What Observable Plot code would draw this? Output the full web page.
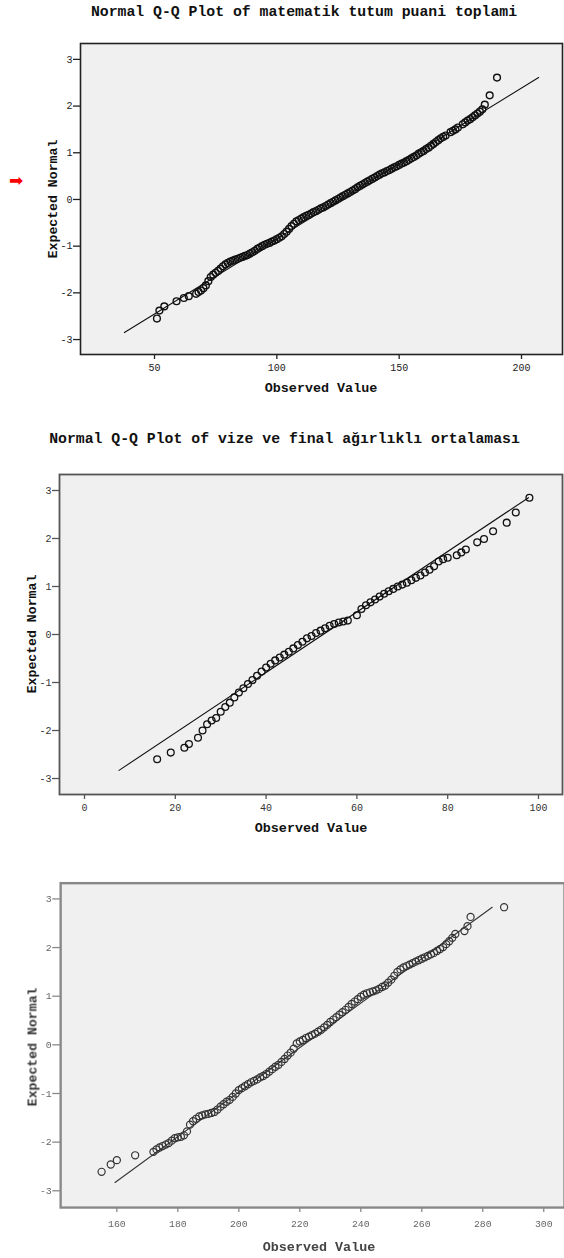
<!DOCTYPE html>
<html><head><meta charset="utf-8">
<script src="https://cdn.jsdelivr.net/npm/d3@7"></script>
<script src="https://cdn.jsdelivr.net/npm/@observablehq/plot@0.6"></script>
<style>
html,body{margin:0;padding:0;background:#fff;overflow:hidden;}
#page{position:relative;width:564px;height:1258px;overflow:hidden;}
.abs{position:absolute;white-space:nowrap;}
.title{font-family:"Liberation Mono",monospace;font-weight:bold;font-size:14.8px;color:#111;transform:translate(-50%,-50%);}
.xl{font-family:"Liberation Mono",monospace;font-weight:bold;font-size:13.4px;color:#111;transform:translate(-50%,-50%);}
.yl{font-family:"Liberation Mono",monospace;font-weight:bold;font-size:13.2px;color:#111;transform:translate(-50%,-50%) rotate(-90deg);}
.arrow{font-family:"DejaVu Sans";font-size:17px;color:#f00;transform:translate(-50%,-50%);}
svg{position:absolute;left:0;}
</style></head>
<body><div id="page"></div>
<script>
// ---------- Chart 1: matematik tutum puani toplami ----------
const title1 = "Normal Q-Q Plot of matematik tutum puani toplami";
const obs1 = [51,52,54,59,62,64,67,68,69,70,71,72,73,74,75,76,77,78,79,80,81,82,83,84,85,86,87,88,89,90,91,92,93,94,95,96,97,98,99,100,101,102,103,104,105,106,107,108,109,110,111,112,113,114,115,116,117,118,119,120,121,122,123,124,125,126,127,128,129,130,131,132,133,134,135,136,137,138,139,140,141,142,143,144,145,146,147,148,149,150,151,152,153,154,155,156,157,158,159,160,161,162,163,164,165,166,167,168,169,171,172,173,174,176,177,178,179,180,181,182,183,184,185,187,190];
const exp1 = [-2.55,-2.38,-2.29,-2.18,-2.11,-2.07,-2.02,-1.98,-1.95,-1.90,-1.84,-1.75,-1.66,-1.61,-1.57,-1.53,-1.48,-1.43,-1.39,-1.36,-1.33,-1.31,-1.29,-1.27,-1.25,-1.23,-1.21,-1.19,-1.16,-1.13,-1.10,-1.06,-1.03,-1.00,-0.97,-0.95,-0.93,-0.90,-0.88,-0.85,-0.82,-0.79,-0.74,-0.69,-0.63,-0.57,-0.52,-0.47,-0.44,-0.41,-0.38,-0.35,-0.33,-0.30,-0.27,-0.25,-0.22,-0.19,-0.17,-0.14,-0.11,-0.08,-0.05,-0.02,0.01,0.04,0.07,0.10,0.13,0.16,0.19,0.22,0.26,0.29,0.32,0.35,0.38,0.41,0.44,0.47,0.50,0.53,0.56,0.58,0.61,0.63,0.66,0.69,0.71,0.74,0.77,0.79,0.82,0.85,0.88,0.91,0.94,0.98,1.01,1.04,1.08,1.11,1.15,1.19,1.23,1.27,1.31,1.34,1.37,1.44,1.47,1.50,1.54,1.61,1.65,1.69,1.72,1.76,1.80,1.84,1.88,1.93,2.03,2.23,2.61];
const fitX1 = [37.7, 207];
const fitY1 = [-2.85, 2.61];
const xTicks1 = [50, 100, 150, 200];

// ---------- Chart 2: vize ve final ağırlıklı ortalaması ----------
const title2 = "Normal Q-Q Plot of vize ve final ağırlıklı ortalaması";
const obs2 = [16,19,22,23,25,26,27,28,29,30,31,32,33,34,35,36,37,38,39,40,41,42,43,44,45,46,47,48,49,50,51,52,53,54,55,56,57,58,60,61,62,63,64,65,66,67,68,69,70,71,72,73,74,75,76,77,78,79,80,82,83,84,86.5,88,90,93,95,98];
const exp2 = [-2.60,-2.46,-2.36,-2.28,-2.15,-2.00,-1.87,-1.79,-1.74,-1.61,-1.51,-1.42,-1.31,-1.21,-1.12,-1.03,-0.95,-0.86,-0.77,-0.69,-0.61,-0.54,-0.48,-0.42,-0.36,-0.29,-0.22,-0.15,-0.08,-0.03,0.03,0.08,0.13,0.18,0.22,0.25,0.27,0.29,0.40,0.53,0.61,0.67,0.73,0.79,0.85,0.90,0.95,1.00,1.04,1.08,1.13,1.18,1.23,1.29,1.35,1.42,1.52,1.57,1.60,1.65,1.71,1.77,1.92,1.99,2.15,2.33,2.54,2.85];
const fitX2 = [7.6, 97.8];
const fitY2 = [-2.83, 2.85];
const xTicks2 = [0, 20, 40, 60, 80, 100];

// ---------- Chart 3 (untitled) ----------
const obs3 = [155,158,160,166,172,173,174,175,176,177,178,179,180,181,182,183,184,185,186,187,188,189,190,191,192,193,194,195,196,197,198,199,200,201,202,203,204,205,206,207,208,209,210,211,212,213,214,215,216,217,218,219,220,221,222,223,224,225,226,227,228,229,230,231,232,233,234,235,236,237,238,239,240,241,242,243,244,245,246,247,248,249,250,251,252,253,254,255,256,257,258,259,260,261,262,263,264,265,266,267,268,269,270,271,274,275,276,287];
const exp3 = [-2.61,-2.46,-2.37,-2.27,-2.20,-2.15,-2.11,-2.08,-2.05,-2.02,-1.97,-1.92,-1.90,-1.89,-1.86,-1.78,-1.64,-1.57,-1.52,-1.47,-1.45,-1.43,-1.42,-1.40,-1.38,-1.33,-1.27,-1.22,-1.17,-1.13,-1.07,-1.00,-0.93,-0.89,-0.85,-0.81,-0.77,-0.74,-0.71,-0.67,-0.64,-0.60,-0.55,-0.50,-0.45,-0.41,-0.35,-0.29,-0.22,-0.16,-0.08,0.03,0.07,0.10,0.14,0.17,0.20,0.23,0.27,0.31,0.36,0.41,0.47,0.52,0.57,0.62,0.67,0.72,0.78,0.84,0.89,0.94,0.99,1.03,1.06,1.08,1.10,1.12,1.15,1.19,1.22,1.28,1.34,1.42,1.50,1.55,1.59,1.62,1.65,1.68,1.71,1.74,1.77,1.80,1.83,1.86,1.89,1.93,1.97,2.01,2.07,2.13,2.20,2.28,2.34,2.44,2.63,2.83];
const fitX3 = [159.4, 283.1];
const fitY3 = [-2.83, 2.83];
const xTicks3 = [160, 180, 200, 220, 240, 260, 280, 300];

const yTicks = [-3, -2, -1, 0, 1, 2, 3];
const xLabel = "Observed Value";
const yLabel = "Expected Normal";

const page = document.getElementById("page");

function addText(cls, text, x, y, extra) {
  const d = document.createElement("div");
  d.className = "abs " + cls;
  d.textContent = text;
  d.style.left = x + "px";
  d.style.top = y + "px";
  if (extra) Object.assign(d.style, extra);
  page.appendChild(d);
}

function qq(o) {
  const pts = o.obs.map((v, i) => ({x: v, y: o.exp[i]}));
  const fit = o.fitX.map((v, i) => ({x: v, y: o.fitY[i]}));
  const svg = Plot.plot({
    width: o.width, height: o.height,
    marginLeft: o.ml, marginRight: o.mr, marginTop: o.mt, marginBottom: o.mb,
    x: {domain: o.xDomain},
    y: {domain: o.yDomain},
    style: {background: "transparent", fontFamily: "Liberation Mono, monospace", fontSize: o.fs + "px", color: o.tickColor, overflow: "visible"},
    marks: [
      Plot.frame({fill: "#f0f0f0", stroke: "none"}),
      Plot.line(fit, {x: "x", y: "y", stroke: o.lineColor, strokeWidth: 1.1}),
      Plot.dot(pts, {x: "x", y: "y", r: o.r, stroke: o.dotColor, strokeWidth: o.dotW, fill: "none"}),
      Plot.frame({stroke: o.frameColor, strokeWidth: o.frameW}),
      Plot.axisX(o.xTicks, {tickSize: 5, tickPadding: o.tpx, label: null, tickFormat: d => String(d), stroke: o.frameColor, strokeWidth: 1.3}),
      Plot.axisY(yTicks, {tickSize: o.tsy, tickPadding: 1, label: null, tickFormat: d => String(d), stroke: o.frameColor, strokeWidth: 1.3})
    ]
  });
  svg.style.top = o.top + "px";
  if (o.filter) svg.style.filter = o.filter;
  page.appendChild(svg);
}

// Chart 1
addText("title", title1, 304, 12);
addText("arrow", "➡", 16, 180);
qq({obs: obs1, exp: exp1, fitX: fitX1, fitY: fitY1, xTicks: xTicks1,
  width: 564, height: 400, ml: 80, mr: 2, mt: 43, mb: 46, top: 0,
  xDomain: [19.75, 216.76], yDomain: [-3.32, 3.34],
  fs: 10, tickColor: "#222", lineColor: "#111", dotColor: "#111", dotW: 1.4, r: 3.4,
  frameColor: "#222", frameW: 1.6, tsy: 7, tpx: 4});
addText("xl", xLabel, 321, 388);
addText("yl", yLabel, 53, 199);

// Chart 2
addText("title", title2, 284.5, 439);
qq({obs: obs2, exp: exp2, fitX: fitX2, fitY: fitY2, xTicks: xTicks2,
  width: 564, height: 460, ml: 59, mr: 2, mt: 74, mb: 66, top: 400,
  xDomain: [-5.51, 105.29], yDomain: [-3.333, 3.333],
  fs: 10, tickColor: "#333", lineColor: "#111", dotColor: "#111", dotW: 1.3, r: 3.4,
  frameColor: "#555", frameW: 1.8, tsy: 7, tpx: 4});
addText("xl", xLabel, 311, 828);
addText("yl", yLabel, 31.5, 634);

// Chart 3
qq({obs: obs3, exp: exp3, fitX: fitX3, fitY: fitY3, xTicks: xTicks3,
  width: 572, height: 398, ml: 61, mr: 0, mt: 23, mb: 46, top: 860,
  xDomain: [141.57, 306.8], yDomain: [-3.345, 3.324],
  fs: 10, tickColor: "#666", lineColor: "#333", dotColor: "#333", dotW: 1.2, r: 3.6,
  frameColor: "#888", frameW: 2.4, tsy: 8, tpx: 8, filter: "blur(0.5px)"});
addText("xl", xLabel, 319, 1247, {color: "#444", filter: "blur(0.5px)"});
addText("yl", yLabel, 32.5, 1047, {color: "#333", filter: "blur(0.5px)"});
</script>
</body></html>
